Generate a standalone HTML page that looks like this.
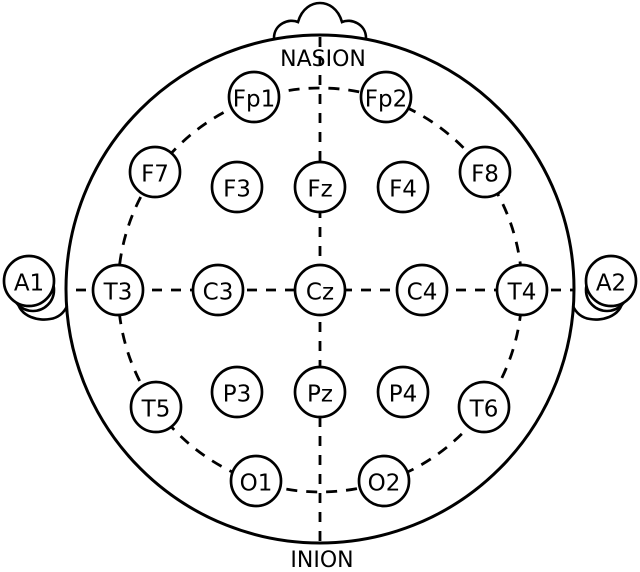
<!DOCTYPE html>
<html>
<head>
<meta charset="utf-8">
<style>
  html, body { margin: 0; padding: 0; background: #fff; }
  svg { display: block; }
  text { font-family: "DejaVu Sans", "Liberation Sans", sans-serif; font-size: 23px; fill: #000; }
  .big { font-size: 22px; }
</style>
</head>
<body>
<svg width="640" height="572" viewBox="0 0 640 572" xmlns="http://www.w3.org/2000/svg">
  <rect width="640" height="572" fill="#fff"/>

  <!-- ears (left) -->
  <g fill="none" stroke="#000" stroke-width="2.6">
    <path d="M17 300 C20 318 40 321 50 319 C58 318 64 313 67 306"/>
    <circle cx="33" cy="290" r="21" fill="#fff"/>
  </g>
  <!-- ears (right, mirrored) -->
  <g fill="none" stroke="#000" stroke-width="2.6" transform="translate(640,0) scale(-1,1)">
    <path d="M17 300 C20 318 40 321 50 319 C58 318 64 313 67 306"/>
    <circle cx="33" cy="290" r="21" fill="#fff"/>
  </g>

  <!-- nasion bump -->
  <path d="M274 38 C274 24 289 18 298 22 C302 8 312 3 320 3 C328 3 338 8 342 22 C351 18 366 24 366 38"
        fill="#fff" stroke="#000" stroke-width="2.6"/>

  <!-- head -->
  <circle cx="320" cy="289" r="254" fill="none" stroke="#000" stroke-width="3"/>

  <!-- dashed lines -->
  <g fill="none" stroke="#000" stroke-width="2.8">
    <circle cx="320" cy="290" r="202" stroke-dasharray="11 9"/>
    <line x1="320" y1="37" x2="320" y2="541" stroke-dasharray="10 9"/>
    <line x1="67" y1="290" x2="573" y2="290" stroke-dasharray="10 9" stroke-dashoffset="-9"/>
  </g>

  <!-- electrodes -->
  <g fill="#fff" stroke="#000" stroke-width="2.7">
    <circle cx="254" cy="97" r="25"/>
    <circle cx="386" cy="97" r="25"/>
    <circle cx="155" cy="172" r="25"/>
    <circle cx="237" cy="187" r="25"/>
    <circle cx="320" cy="187" r="25"/>
    <circle cx="403" cy="187" r="25"/>
    <circle cx="485" cy="172" r="25"/>
    <circle cx="29" cy="281" r="25"/>
    <circle cx="118" cy="290" r="25"/>
    <circle cx="218" cy="290" r="25"/>
    <circle cx="320" cy="290" r="25"/>
    <circle cx="422" cy="290" r="25"/>
    <circle cx="522" cy="290" r="25"/>
    <circle cx="611" cy="281" r="25"/>
    <circle cx="156" cy="407" r="25"/>
    <circle cx="237" cy="392" r="25"/>
    <circle cx="320" cy="392" r="25"/>
    <circle cx="403" cy="392" r="25"/>
    <circle cx="484" cy="407" r="25"/>
    <circle cx="256" cy="481" r="25"/>
    <circle cx="384" cy="481" r="25"/>
  </g>

  <g text-anchor="middle">
    <text class="big" x="323" y="66">NASION</text>
    <text class="big" x="322" y="567">INION</text>

    <text x="254" y="106.5">Fp1</text>
    <text x="386" y="106.5">Fp2</text>
    <text x="155" y="181.5">F7</text>
    <text x="237" y="196.5">F3</text>
    <text x="320" y="196.5">Fz</text>
    <text x="403" y="196.5">F4</text>
    <text x="485" y="181.5">F8</text>
    <text x="29" y="290.5">A1</text>
    <text x="118" y="299.5">T3</text>
    <text x="218" y="299.5">C3</text>
    <text x="320" y="299.5">Cz</text>
    <text x="422" y="299.5">C4</text>
    <text x="522" y="299.5">T4</text>
    <text x="611" y="290.5">A2</text>
    <text x="156" y="416.5">T5</text>
    <text x="237" y="401.5">P3</text>
    <text x="320" y="401.5">Pz</text>
    <text x="403" y="401.5">P4</text>
    <text x="484" y="416.5">T6</text>
    <text x="256" y="490.5">O1</text>
    <text x="384" y="490.5">O2</text>
  </g>
</svg>
</body>
</html>
